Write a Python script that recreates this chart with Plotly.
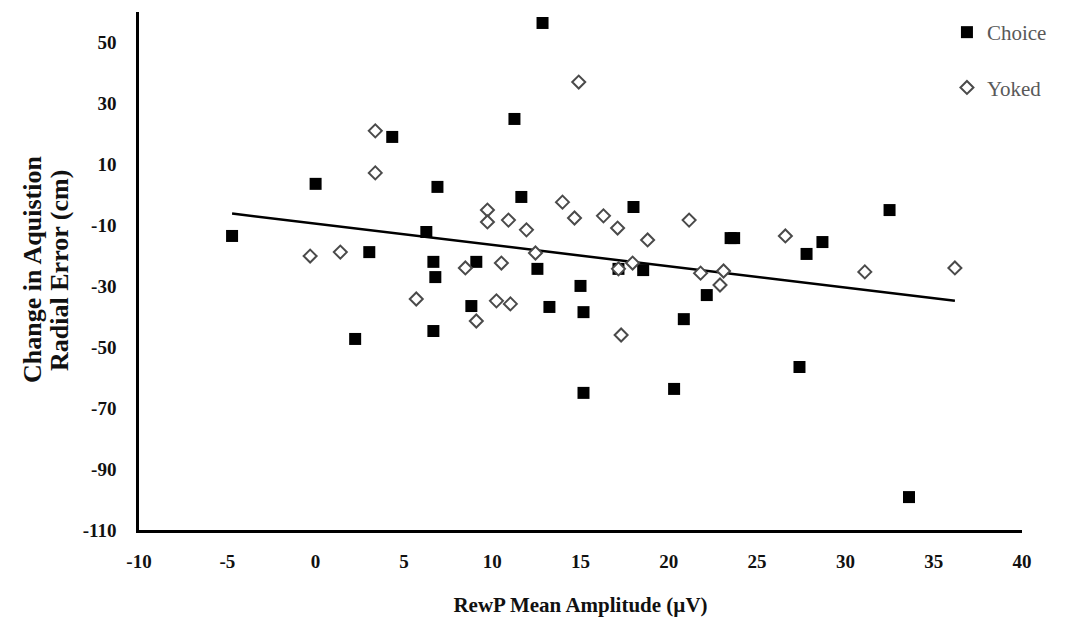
import numpy as np
import plotly.graph_objects as go

# Choice group (x: RewP mean amplitude, y: change in acquisition radial error)
choice_x = [12.85, 11.26, 4.34, 0.0, 6.9, 11.65, -4.73, 6.27, 3.04, 6.67, 9.1, 6.78,
            12.56, 15.0, 8.82, 13.24, 15.17, 2.24, 6.67, 15.17, 18.0, 32.5, 23.5, 23.7,
            28.7, 27.8, 17.15, 18.55, 22.15, 20.85, 20.3, 27.4, 33.6]
choice_y = [56.4, 24.9, 19.0, 3.6, 2.6, -0.7, -13.5, -12.2, -18.8, -22.0, -22.0, -27.0,
            -24.3, -29.9, -36.5, -36.8, -38.5, -47.3, -44.7, -65.0, -4.0, -5.0, -14.2, -14.2,
            -15.5, -19.4, -24.3, -24.7, -32.9, -40.8, -63.7, -56.5, -99.2]

# Yoked group
yoked_x = [-0.31, 1.4, 5.7, 8.48, 10.52, 12.45, 10.24, 11.03, 9.1, 3.38, 3.38, 14.9,
           9.73, 9.73, 10.92, 11.94, 13.98, 14.66, 16.3, 17.1, 18.8, 21.15, 17.95, 17.15,
           21.8, 23.1, 22.9, 26.6, 31.1, 36.2, 17.3]
yoked_y = [-20.1, -18.8, -34.2, -24.0, -22.4, -19.1, -34.8, -35.8, -41.4, 21.0, 7.2, 37.0,
           -5.0, -8.9, -8.3, -11.5, -2.4, -7.6, -6.9, -10.9, -14.8, -8.3, -22.4, -24.3,
           -25.7, -25.0, -29.6, -13.5, -25.3, -24.0, -46.0]

x_ticks = [-10, -5, 0, 5, 10, 15, 20, 25, 30, 35, 40]
x_labels = ["-10", "-5", "0", "5", "10", "15", "20", "25", "30", "35", "40"]
y_ticks = [-110, -90, -70, -50, -30, -10, 10, 30, 50]
y_labels = ["-110", "-90", "-70", "-50", "-30", "-10", "10", "30", "50"]
y_title_lines = ["Change in Aquistion", "Radial Error (cm)"]

# Linear trend over all participants
all_x = np.array(choice_x + yoked_x)
all_y = np.array(choice_y + yoked_y)
slope, intercept = np.polyfit(all_x, all_y, 1)
tx = np.array([all_x.min(), all_x.max()])
ty = slope * tx + intercept

FONT = "Liberation Serif, Times New Roman, serif"
INK = "#111111"

fig = go.Figure()
fig.add_trace(go.Scatter(
    x=tx, y=ty, mode="lines", line=dict(color="black", width=2.5),
    showlegend=False, hoverinfo="skip"))
fig.add_trace(go.Scatter(
    x=choice_x, y=choice_y, mode="markers", name="Choice", legendgroup="c",
    marker=dict(symbol="square", size=12, color="black",
                line=dict(color="black", width=0))))
fig.add_trace(go.Scatter(
    x=yoked_x, y=yoked_y, mode="markers", name="Yoked", legendgroup="y",
    marker=dict(symbol="diamond", size=10, color="white",
                line=dict(color="#4a4a4a", width=2))))

# Two-line rotated y-axis title
for xpos, line in zip([-0.12, -0.0895], y_title_lines):
    fig.add_annotation(
        text=f"<b>{line}</b>", textangle=-90, xref="paper", yref="paper",
        x=xpos, y=0.502, xanchor="center", yanchor="middle", showarrow=False,
        font=dict(family=FONT, size=26, color=INK))

fig.update_layout(
    width=1063, height=613,
    margin=dict(l=131, r=49, t=4, b=91),
    paper_bgcolor="white", plot_bgcolor="white",
    font=dict(family=FONT, color=INK),
    legend=dict(x=0.915, y=1.0, xanchor="left", yanchor="top",
                bgcolor="rgba(0,0,0,0)", tracegroupgap=25,
                font=dict(family=FONT, size=21, color="#595959"),
                itemwidth=30),
    xaxis=dict(range=[-10, 40], tickvals=x_ticks, ticktext=x_labels,
               showgrid=False, zeroline=False,
               showline=True, linecolor="black", linewidth=2.5, ticks="",
               ticklabelstandoff=12,
               tickfont=dict(family=FONT, size=19, color=INK, weight="bold"),
               title=dict(text="<b>RewP Mean Amplitude (µV)</b>", standoff=27,
                          font=dict(family=FONT, size=21, color=INK))),
    yaxis=dict(range=[-110, 60], tickvals=y_ticks, ticktext=y_labels,
               showgrid=False, zeroline=False,
               showline=True, linecolor="black", linewidth=2.5, ticks="",
               ticklabelstandoff=16,
               tickfont=dict(family=FONT, size=19, color=INK, weight="bold")),
)

fig.write_html("out.html")
